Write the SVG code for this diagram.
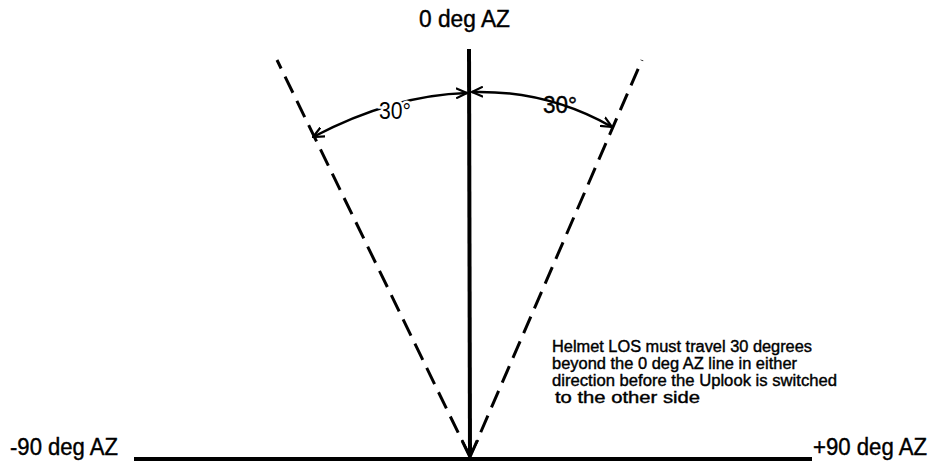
<svg xmlns="http://www.w3.org/2000/svg" width="934" height="465" viewBox="0 0 934 465">
<style>
text{font-family:"Liberation Sans",Arial,sans-serif;fill:#000;stroke:#000;stroke-width:0.4}
.lbl{font-size:23px}
.note{font-size:16px}
.solid{stroke:#000;fill:none;stroke-width:4}
.dash{stroke:#000;fill:none;stroke-width:3;stroke-dasharray:18 9}
.arc{stroke:#000;fill:none;stroke-width:2.5}
.halo{stroke:#fff;stroke-width:5;paint-order:stroke}
</style>
<defs>
<marker id="open" viewBox="0 0 12 12" refX="11" refY="6" markerWidth="12" markerHeight="12" markerUnits="userSpaceOnUse" orient="auto-start-reverse">
<path d="M0,1 L11,6 L0,11" fill="none" stroke="#000" stroke-width="2.2"/>
</marker>
<marker id="down" viewBox="0 0 20 20" refX="18" refY="10" markerWidth="20" markerHeight="20" markerUnits="userSpaceOnUse" orient="auto">
<path d="M2,2 L18,10 L2,18" fill="none" stroke="#000" stroke-width="2.5"/>
</marker>
</defs>
<g id="connectors">
<line class="dash" x1="470" y1="457" x2="277" y2="60"/>
<line class="dash" x1="470" y1="457" x2="642" y2="60"/>
<line id="zero-axis" class="solid" x1="469" y1="49" x2="470" y2="456" marker-end="url(#down)"/>
<line id="baseline" class="solid" x1="134" y1="459" x2="812" y2="459"/>
<path id="arc-left" class="arc" d="M313,137 Q393,95 467,93" marker-start="url(#open)" marker-end="url(#open)"/>
<path id="arc-right" class="arc" d="M472,92 Q547,90 612,127" marker-start="url(#open)" marker-end="url(#open)"/>
</g>
<g id="label-0deg"><text class="lbl" x="419" y="27" textLength="91" lengthAdjust="spacingAndGlyphs">0 deg AZ</text></g>
<g id="label-30-left"><text class="lbl halo" x="379" y="119" textLength="32" lengthAdjust="spacingAndGlyphs">30°</text></g>
<g id="label-30-right"><text class="lbl" x="543" y="113" textLength="34" lengthAdjust="spacingAndGlyphs">30°</text></g>
<g id="label-minus90"><text class="lbl" x="10" y="455" textLength="108" lengthAdjust="spacingAndGlyphs">-90 deg AZ</text></g>
<g id="label-plus90"><text class="lbl" x="813" y="455" textLength="114" lengthAdjust="spacingAndGlyphs">+90 deg AZ</text></g>
<g id="note">
<text class="note" x="552" y="352" textLength="260" lengthAdjust="spacingAndGlyphs">Helmet LOS must travel  30 degrees</text>
<text class="note" x="552" y="369" textLength="245" lengthAdjust="spacingAndGlyphs">beyond the 0 deg AZ line in either</text>
<text class="note" x="552" y="386" textLength="285" lengthAdjust="spacingAndGlyphs">direction before the Uplook is switched</text>
<text class="note" x="555" y="403" textLength="145" lengthAdjust="spacingAndGlyphs">to the other side</text>
</g>
</svg>
